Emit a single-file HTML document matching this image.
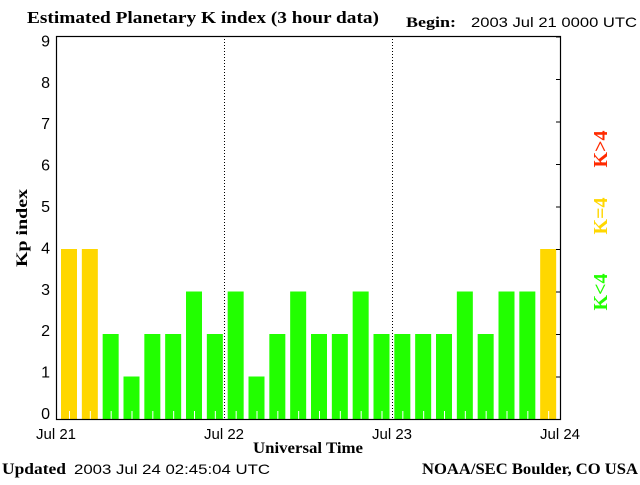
<!DOCTYPE html>
<html><head><meta charset="utf-8"><style>
body{margin:0;background:#fff;}
svg text{font-family:"Liberation Serif",serif;}
.s{font-family:"Liberation Sans",sans-serif !important;}
</style></head><body>
<svg id="c" width="640" height="480" xmlns="http://www.w3.org/2000/svg">
<text x="27" y="23" font-size="17" font-weight="bold" textLength="352" lengthAdjust="spacingAndGlyphs">Estimated Planetary K index (3 hour data)</text>
<text x="406" y="27" font-size="15" font-weight="bold" textLength="50" lengthAdjust="spacingAndGlyphs">Begin:</text>
<text x="471" y="27" font-size="14" class="s" textLength="166" lengthAdjust="spacingAndGlyphs">2003 Jul 21 0000 UTC</text>
<text x="27" y="228" font-size="16" font-weight="bold" transform="rotate(-90 27 228)" text-anchor="middle" textLength="78" lengthAdjust="spacingAndGlyphs">Kp index</text>
<text x="308" y="453" font-size="16" font-weight="bold" text-anchor="middle" textLength="110" lengthAdjust="spacingAndGlyphs">Universal Time</text>
<text x="2" y="474" font-size="16" font-weight="bold" textLength="64" lengthAdjust="spacingAndGlyphs">Updated</text>
<text x="74" y="474" font-size="14" class="s" textLength="196" lengthAdjust="spacingAndGlyphs">2003 Jul 24 02:45:04 UTC</text>
<text x="422" y="474" font-size="16" font-weight="bold" textLength="216" lengthAdjust="spacingAndGlyphs">NOAA/SEC Boulder, CO USA</text>
<g font-size="20" font-weight="bold">
<text x="607" y="149" fill="#ff2a00" transform="rotate(-90 607 149)" text-anchor="middle">K&gt;4</text>
<text x="607" y="216" fill="#ffd700" transform="rotate(-90 607 216)" text-anchor="middle">K=4</text>
<text x="607" y="292" fill="#22ff00" transform="rotate(-90 607 292)" text-anchor="middle">K&lt;4</text>
</g>
<g id="bars"></g>
<g id="axes"></g>
</svg>
<script>
const kpValues=[4,4,2,1,2,2,3,2, 3,1,2,3,2,2,3,2, 2,2,2,3,2,3,3,4];
const yTicks=[0,1,2,3,4,5,6,7,8,9];
const dayLabels=["Jul 21","Jul 22","Jul 23","Jul 24"];
const NS="http://www.w3.org/2000/svg";
const L=56,R=560,T=36,B=419;
const xDay=h=>L+(R-L)*h/72;
const xBar=i=>L+5+500*i/24;
const yOf=v=>B-42.5*v;
const yLabel=v=>413-41.4*v;
const bars=document.getElementById('bars'),axes=document.getElementById('axes');
function mk(tag,at,par){const e=document.createElementNS(NS,tag);for(const k in at)e.setAttribute(k,at[k]);par.appendChild(e);return e;}
kpValues.forEach((v,i)=>{
 const x0=xBar(i);
 const r=mk('rect',{x:x0,y:yOf(v),width:16,height:B-yOf(v),fill:v>4?'#ff2a00':(v==4?'#ffd700':'#22ff00')},bars);
 
 
 const t=mk('line',{x1:x0+8.5,x2:x0+8.5,y1:B-8,y2:B,stroke:'#fff','stroke-width':1},bars);
 
 
});
const f=mk('rect',{x:L+0.5,y:T+0.5,width:R-L,height:B-T,fill:'none',stroke:'#000','stroke-width':1.2},axes);


[24,48].forEach(h=>{const l=mk('line',{x1:xDay(h)+0.5,x2:xDay(h)+0.5,y1:T,y2:B,stroke:'#000','stroke-dasharray':'1,2'},axes);
 
 });
yTicks.forEach(v=>{const t=mk('text',{x:50,y:yLabel(v)+6,'font-size':16,'text-anchor':'end',class:'s',fill:'#000'},axes);t.textContent=v;
 
 
 const k=mk('line',{x1:R-4,x2:R,y1:yOf(v)+0.5,y2:yOf(v)+0.5,stroke:'#000'},axes);
 
 });
dayLabels.forEach((d,i)=>{const t=mk('text',{x:xDay(i*24),y:439,'font-size':15,'text-anchor':'middle',class:'s'},axes);t.textContent=d;
 
 });
</script>
</body></html>
